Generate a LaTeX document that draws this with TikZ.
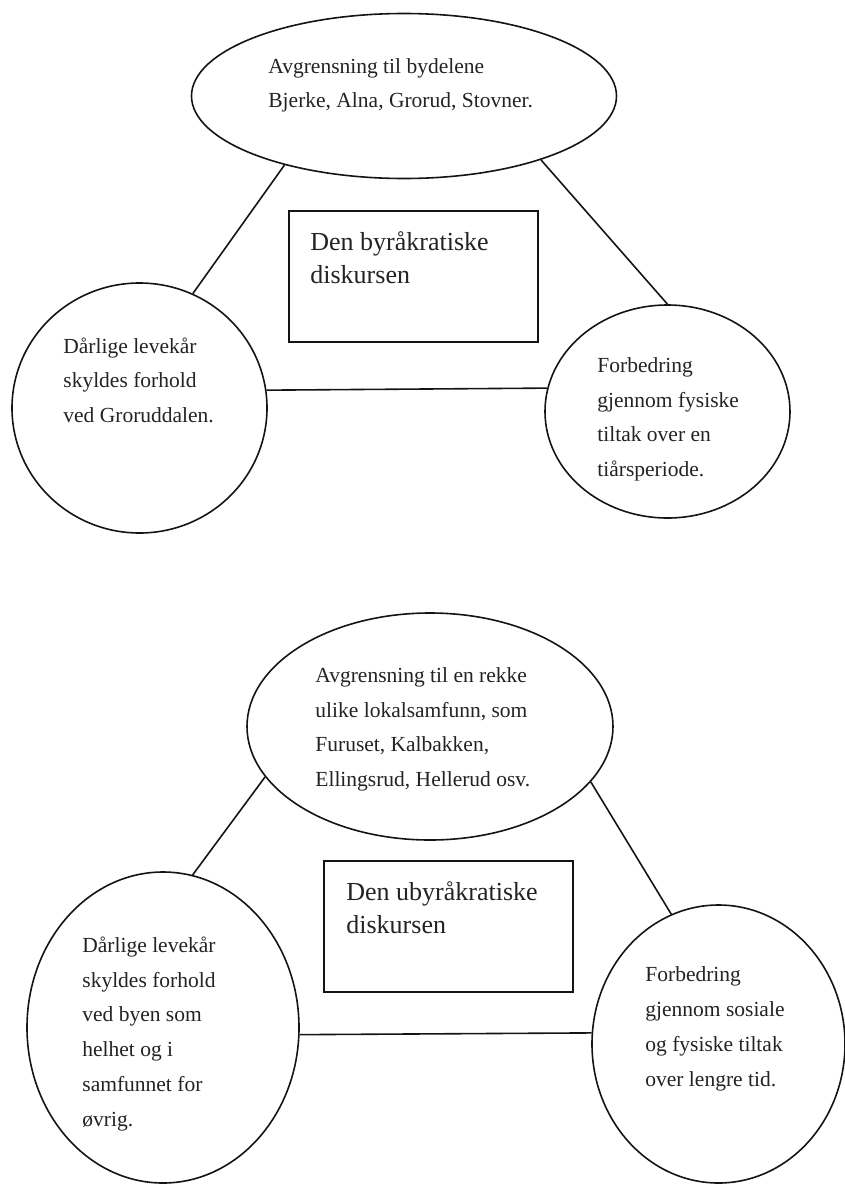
\documentclass[tikz,border=0pt]{standalone}
\usepackage{fontspec}
\setmainfont{Liberation Serif}
\usetikzlibrary{positioning}
\usetikzlibrary{shapes.geometric}
\definecolor{figStrek}{RGB}{20,20,20}
\definecolor{figTekst}{RGB}{35,35,35}
\tikzset{
  sirkel/.style={
    ellipse, draw=figStrek, line width=0.8pt, inner sep=0pt
  },
  boks/.style={
    rectangle, draw=figStrek, line width=0.8pt, inner sep=0pt
  },
  tekst/.style={
    anchor=base west, align=left, inner sep=0pt, text=figTekst,
    font=\fontsize{10.75}{17.35}\selectfont
  },
  tittel/.style={
    anchor=base west, align=left, inner sep=0pt, text=figTekst,
    font=\fontsize{13}{16.5}\selectfont
  },
  linje/.style={line width=0.8pt, draw=figStrek}
}

\begin{document}
\begin{tikzpicture}[x=0.5pt, y=-0.5pt]
  \useasboundingbox (0,0) rectangle (845,1184);

  % den byråkratiske diskursen
  \node[sirkel, minimum width=212.5pt, minimum height=82.5pt] (topp1) at (404,96) {};
  \node[sirkel, minimum width=127.5pt, minimum height=125pt] (venstre1) at (139.5,408) {};
  \node[sirkel, minimum width=122.5pt, minimum height=106.5pt] (hoyre1) at (667.5,411.5) {};
  \node[boks, minimum width=124.5pt, minimum height=65.5pt] (boks1) at (413.5,276.5) {};

  % tekstene står på siste grunnlinje
  \node[tekst] (topp1tekst) at (268,107.7) {Avgrensning til bydelene\\Bjerke, Alna, Grorud, Stovner.};
  \node[tekst] (venstre1tekst) at (63,422.4) {Dårlige levekår\\skyldes forhold\\ved Groruddalen.};
  \node[tekst] (hoyre1tekst) at (597,476.5) {Forbedring\\gjennom fysiske\\tiltak over en\\tiårsperiode.};
  \node[tittel] (boks1tekst) at (310,283) {Den byråkratiske\\diskursen};

  \draw[linje] (topp1.210) -- (venstre1.65);
  \draw[linje] (topp1.335) -- (hoyre1.90);
  \draw[linje] (venstre1.8.6) -- (hoyre1.169.4);

  % den ubyråkratiske diskursen
  \node[sirkel, minimum width=183pt, minimum height=113.5pt] (topp2) at (430,726.5) {};
  \node[sirkel, minimum width=136pt, minimum height=155.5pt] (venstre2) at (163,1027.5) {};
  \node[sirkel, minimum width=126.5pt, minimum height=139pt] (hoyre2) at (718.5,1044) {};
  \node[boks, minimum width=124.5pt, minimum height=65.5pt] (boks2) at (448.5,926.5) {};

  \node[tekst] (topp2tekst) at (315,786.5) {Avgrensning til en rekke\\ulike lokalsamfunn, som\\Furuset, Kalbakken,\\Ellingsrud, Hellerud osv.};
  \node[tekst] (venstre2tekst) at (82,1126) {Dårlige levekår\\skyldes forhold\\ved byen som\\helhet og i\\samfunnet for\\øvrig.};
  \node[tekst] (hoyre2tekst) at (645,1086) {Forbedring\\gjennom sosiale\\og fysiske tiltak\\over lengre tid.};
  \node[tittel] (boks2tekst) at (346,933) {Den ubyråkratiske\\diskursen};

  \draw[linje] (topp2.197.5) -- (venstre2.79);
  \draw[linje] (topp2.341.8) -- (hoyre2.110.6);
  \draw[linje] (venstre2.357.6) -- (hoyre2.175.5);
\end{tikzpicture}
\end{document}
